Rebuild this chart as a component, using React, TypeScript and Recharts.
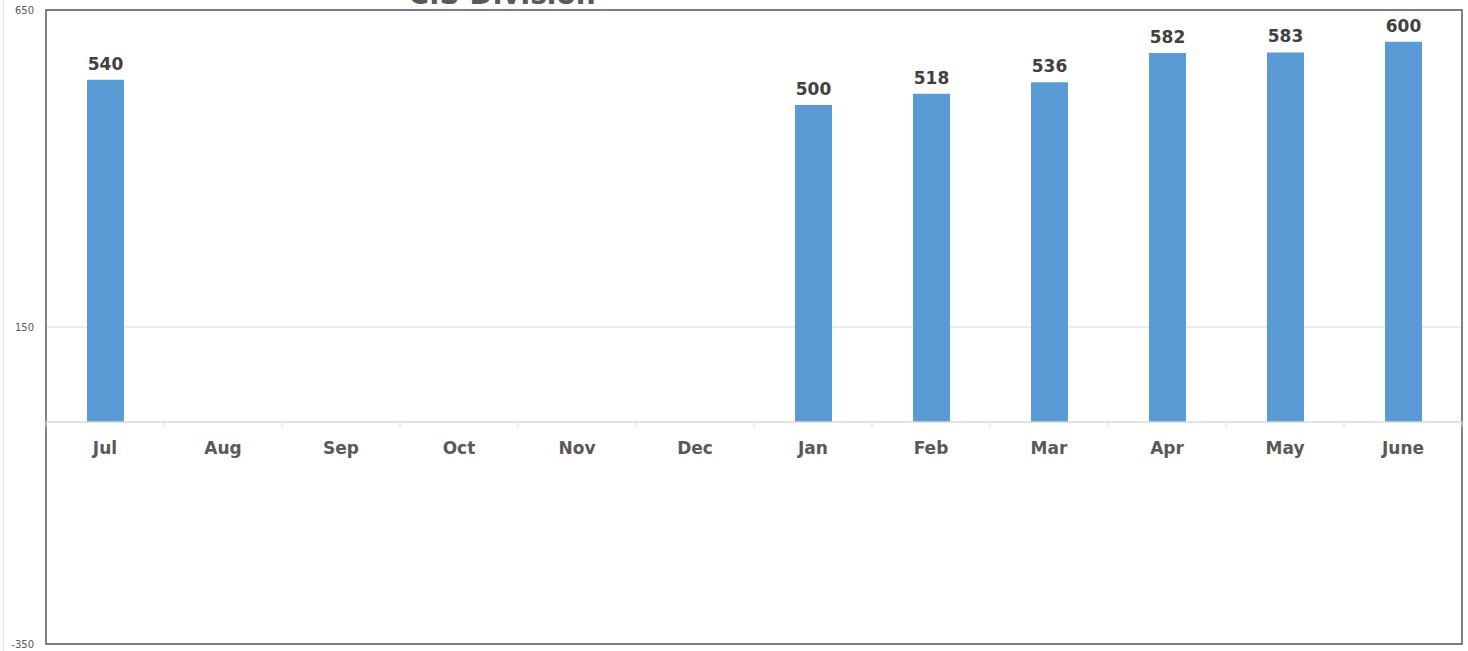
import { Bar, BarChart, CartesianGrid, LabelList, ReferenceArea, ReferenceLine, XAxis, YAxis } from "recharts";

const months = ["Jul", "Aug", "Sep", "Oct", "Nov", "Dec", "Jan", "Feb", "Mar", "Apr", "May", "June"];
const staff = [540, null, null, null, null, null, 500, 518, 536, 582, 583, 600];
const yTicks = [-350, 150, 650];

const W = 1468;
const H = 651;
const M = { top: 10, right: 6, bottom: 6, left: 0 };
const AXIS_W = 46;
const PLOT_W = W - M.left - M.right - AXIS_W;
const PLOT_H = H - M.top - M.bottom - 1;
const Y_MIN = yTicks[0];
const Y_MAX = yTicks[yTicks.length - 1];
const ZERO_Y = M.top + (PLOT_H * Y_MAX) / (Y_MAX - Y_MIN);
const BAND = PLOT_W / months.length;

const data = months.map((m, i) => ({ month: m, value: staff[i] }));

// month labels sit on the zero line, not on the bottom of the box
function MonthTick(props: any) {
  const { x, payload, index } = props;
  const left = x - BAND / 2;
  return (
    <g>
      <line x1={left} x2={left} y1={ZERO_Y} y2={ZERO_Y + 5} stroke="#d9d9d9" />
      {index === months.length - 1 && (
        <line x1={left + BAND} x2={left + BAND} y1={ZERO_Y} y2={ZERO_Y + 5} stroke="#d9d9d9" />
      )}
      <text
        x={x}
        y={ZERO_Y + 32}
        textAnchor="middle"
        fontFamily="DejaVu Sans"
        fontWeight="bold"
        fontSize={17}
        fill="#595959"
      >
        {payload.value}
      </text>
    </g>
  );
}

export default function App() {
  return (
    <div style={{ position: "absolute", left: 0, top: 0, width: W, height: H, background: "#fff", overflow: "hidden" }}>
      <div style={{ position: "absolute", left: 3, top: 0, width: 1, height: H, background: "#e3e3e3" }} />
      <svg style={{ position: "absolute", left: 0, top: 0 }} width={W} height={20}>
        <text x={502} y={4} textAnchor="middle" fontFamily="DejaVu Sans" fontWeight="bold" fontSize={28} fill="#595959">
          C.S Division
        </text>
      </svg>
      <BarChart width={W} height={H} data={data} margin={M} style={{ position: "absolute", left: 0, top: 0 }}>
        <CartesianGrid vertical={false} stroke="#d9d9d9" />
        <YAxis
          width={AXIS_W}
          domain={[Y_MIN, Y_MAX]}
          ticks={yTicks}
          axisLine={false}
          tickLine={false}
          tickMargin={6}
          tick={{ fontSize: 10, fill: "#595959", fontFamily: "DejaVu Sans" }}
        />
        <XAxis dataKey="month" height={1} axisLine={false} tickLine={false} tick={<MonthTick />} interval={0} />
        <ReferenceLine y={0} stroke="#d9d9d9" strokeWidth={1.5} />
        <ReferenceArea y1={Y_MIN} y2={Y_MAX} fill="none" stroke="#595959" strokeWidth={1.5} ifOverflow="visible" />
        <Bar dataKey="value" fill="#5b9bd5" barSize={37} isAnimationActive={false}>
          <LabelList
            dataKey="value"
            position="top"
            offset={10}
            fill="#404040"
            fontSize={17}
            fontWeight="bold"
            fontFamily="DejaVu Sans"
          />
        </Bar>
      </BarChart>
    </div>
  );
}
